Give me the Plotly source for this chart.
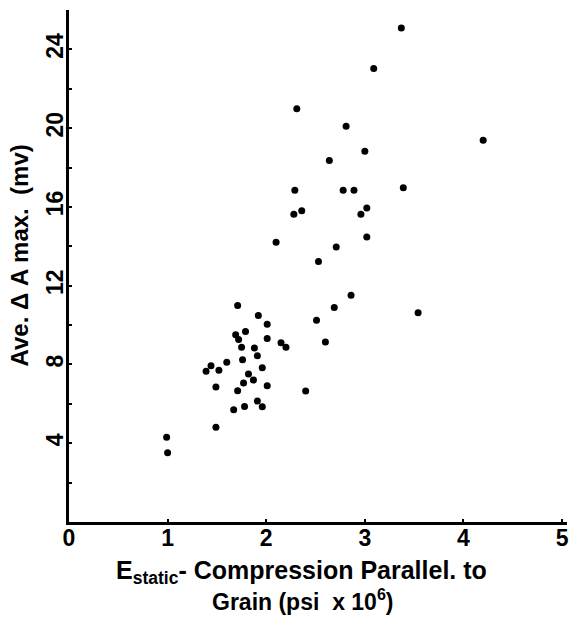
import plotly.graph_objects as go

# Data (E static in psi x 10^6, Ave. ΔA max in mv)
e_static = [3.37, 3.09, 2.31, 2.81, 4.20, 3.00, 2.64, 2.29, 2.78, 2.89,
            3.39, 2.36, 2.28, 3.02, 2.96, 2.10, 3.02, 2.71, 2.53, 2.86,
            2.69, 3.54, 2.51, 2.60, 2.40, 1.71, 1.92, 2.01, 1.79, 1.69,
            1.72, 2.01, 2.15, 2.20, 1.75, 1.88, 1.91, 1.60, 1.76, 1.44,
            1.39, 1.52, 1.96, 1.82, 1.87, 1.77, 1.49, 2.01, 1.71, 1.91,
            1.78, 1.96, 1.67, 1.49, 0.99, 1.00]
delta_a = [25.08, 23.03, 20.98, 20.10, 19.39, 18.83, 18.36, 16.85, 16.85, 16.85,
           16.97, 15.80, 15.63, 15.95, 15.63, 14.20, 14.47, 13.97, 13.23, 11.52,
           10.89, 10.62, 10.24, 9.14, 6.65, 11.00, 10.49, 10.04, 9.68, 9.51,
           9.27, 9.32, 9.10, 8.88, 8.87, 8.83, 8.44, 8.11, 8.24, 7.93,
           7.66, 7.70, 7.83, 7.51, 7.21, 7.06, 6.85, 6.92, 6.66, 6.14,
           5.87, 5.85, 5.70, 4.81, 4.30, 3.52]

x_tickvals = [0, 1, 2, 3, 4, 5]
x_ticktext = ["0", "1", "2", "3", "4", "5"]
y_tickvals = [2, 4, 6, 8, 10, 12, 14, 16, 18, 20, 22, 24]
y_ticktext = ["", "4", "", "8", "", "12", "", "16", "", "20", "", "24"]

x_title_line1 = "E<sub>static</sub>- Compression Parallel. to"
x_title_line2 = "Grain (psi  x 10<sup>6</sup>)"
y_title = "Ave. Δ A max.  (mv)"

FONT = "Liberation Sans"

fig = go.Figure()
fig.add_trace(go.Scatter(
    x=e_static, y=delta_a, mode="markers",
    marker=dict(color="black", size=7, line=dict(width=0)),
    showlegend=False, hoverinfo="x+y",
))

fig.update_layout(
    width=572, height=618,
    margin=dict(l=69, r=3, t=10, b=96),
    paper_bgcolor="white", plot_bgcolor="white",
    font=dict(family=FONT, color="black", size=18, weight="bold"),
    xaxis=dict(
        range=[0, 5.05], showgrid=False, zeroline=False,
        showline=True, linecolor="black", linewidth=2.5,
        tickvals=x_tickvals, ticktext=x_ticktext,
        ticks="inside", ticklen=3, tickwidth=2, tickcolor="black",
        ticklabelstandoff=-6,
        tickfont=dict(family=FONT, size=23, weight="bold"),
    ),
    yaxis=dict(
        range=[0, 26], showgrid=False, zeroline=False,
        showline=True, linecolor="black", linewidth=2.5,
        tickvals=y_tickvals, ticktext=y_ticktext,
        ticks="inside", ticklen=3, tickwidth=2, tickcolor="black",
        ticklabelstandoff=-6,
        tickangle=-90,
        tickfont=dict(family=FONT, size=23, weight="bold"),
    ),
    annotations=[
        dict(text=y_title, textangle=-90,
             xref="paper", yref="paper", x=-0.1, y=0.521,
             xanchor="center", yanchor="middle", showarrow=False,
             font=dict(family=FONT, size=24, weight="bold")),
        dict(text=x_title_line1,
             xref="paper", yref="paper", x=0.466, y=-0.098,
             xanchor="center", yanchor="middle", showarrow=False,
             font=dict(family=FONT, size=25, weight="bold")),
        dict(text=x_title_line2,
             xref="paper", yref="paper", x=0.47, y=-0.153,
             xanchor="center", yanchor="middle", showarrow=False,
             font=dict(family=FONT, size=23, weight="bold")),
    ],
)

fig.write_html("out.html")
